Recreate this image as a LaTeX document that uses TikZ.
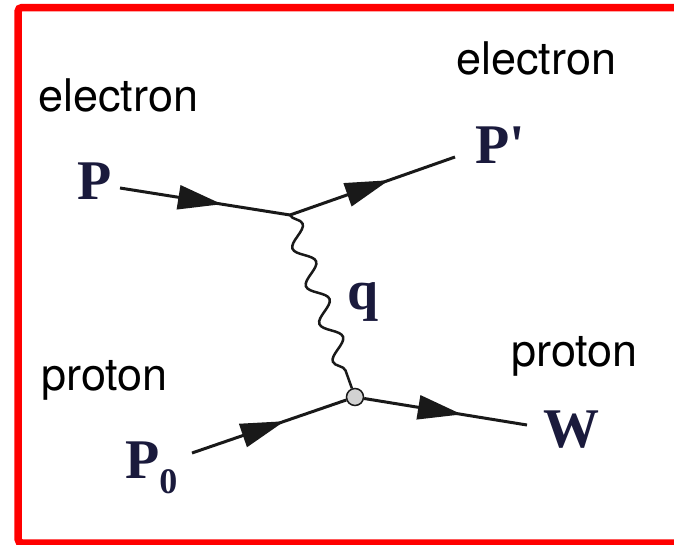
\documentclass[tikz,border=0pt]{standalone}
\usepackage{fontspec}
\setmainfont{Liberation Serif}
\newfontfamily\tagfont{TeX Gyre Heros}
\usetikzlibrary{arrows.meta, decorations.markings, decorations.pathmorphing}
\definecolor{frameRed}{HTML}{FF0000}
\definecolor{momNavy}{HTML}{1A1A3C}
\colorlet{lineInk}{black!90}

\begin{document}
\begin{tikzpicture}[x=1pt, y=-1pt,
  tag/.style={font=\tagfont\fontsize{45}{54}\selectfont, anchor=base west, inner sep=0pt},
  mom/.style={font=\bfseries\fontsize{56}{60}\selectfont, text=momNavy, anchor=base west, inner sep=0pt},
  fermion/.style={lineInk, line width=3pt, postaction={decorate},
    decoration={markings, mark=at position 0.6 with {\arrow{Triangle[length=44pt,width=24pt]}}}},
  photon/.style={lineInk, line width=2.5pt, decorate,
    decoration={snake, amplitude=9pt, segment length=40pt}},
  blob/.style={circle, draw=lineInk, fill=gray!35, line width=1.5pt, minimum size=17pt, inner sep=0pt}]
  \useasboundingbox (0,0) rectangle (674,544);

  % Frame
  \draw[frameRed, line width=7.5pt, rounded corners=4pt]
    (700,7.5) -- (18,7.5) -- (18,543) -- (700,543);

  % Particle names
  \node[tag] (electronIn) at (38,111) {electron};
  \node[tag] (electronOut) at (456,74) {electron};
  \node[tag] (protonIn) at (41,390) {proton};
  \node[tag] (protonOut) at (511,366) {proton};

  % Momenta
  \node[mom] (labP) at (77,199) {P};
  \node[mom] (labPp) at (475,163) {P\textquotesingle};
  \node[mom] (labPzero) at (125,478) {P\raisebox{-15pt}{\fontsize{36}{36}\selectfont 0}};
  \node[mom] (labW) at (543,447) {W};
  \node[mom] (labq) at (347,309) {q};

  % Vertices and line ends
  \coordinate (eIn) at (120,188);
  \coordinate (v1) at (290,215);
  \coordinate (eOut) at (455,157);
  \coordinate (pIn) at (192,453);
  \node[blob] (v2) at (355,397) {};
  \coordinate (pOut) at (527,425);

  % Lines
  \draw[photon] (v1) -- (v2);
  \draw[fermion] (eIn) -- (v1);
  \draw[fermion] (v1) -- (eOut);
  \draw[fermion] (pIn) -- (v2);
  \draw[fermion] (v2) -- (pOut);
\end{tikzpicture}
\end{document}
